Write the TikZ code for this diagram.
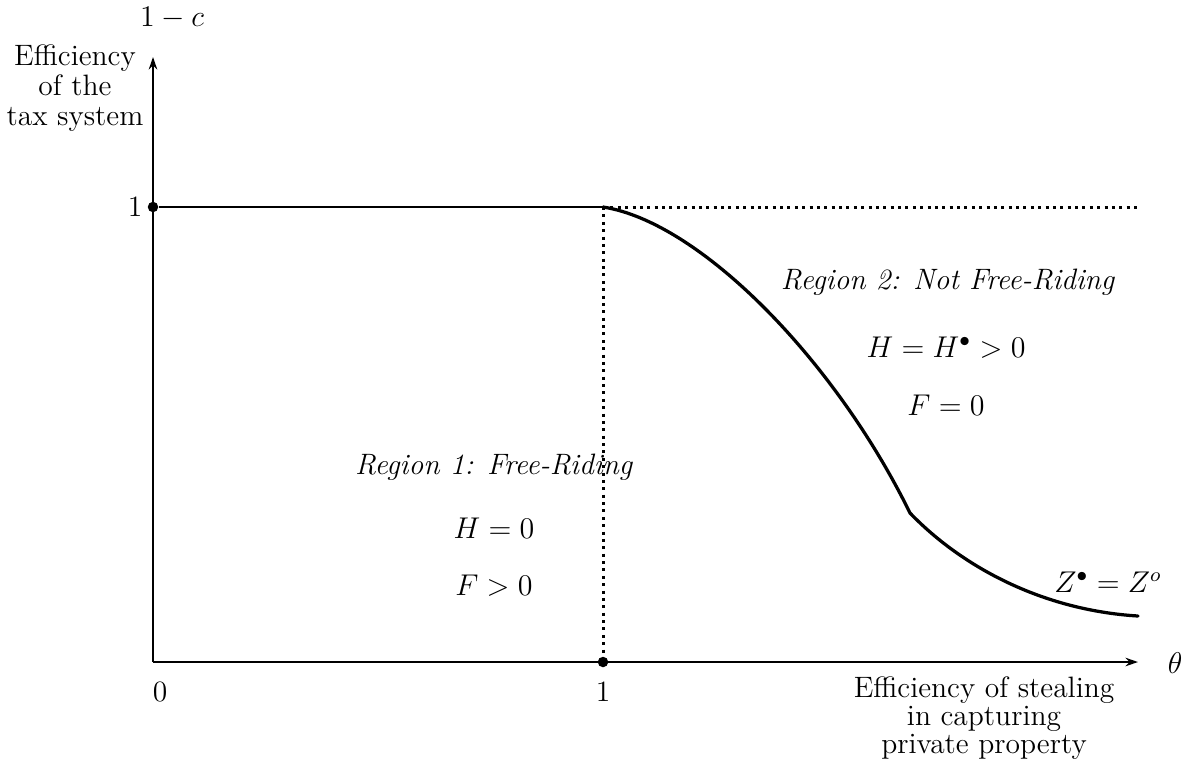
\documentclass[tikz,border=0pt]{standalone}
\usetikzlibrary{arrows.meta}
\begin{document}
\begin{tikzpicture}[x=0.4pt,y=-0.4pt,
  every node/.style={font=\fontsize{11.8}{11.2}\selectfont, inner sep=0pt},
  axis/.style={line width=0.8pt, -{Stealth[length=5pt,width=3.4pt]}},
  solidline/.style={line width=1.1pt},
  dotline/.style={line width=1.2pt, dash pattern=on 1.2pt off 1.75pt},
  curveline/.style={line width=1.3pt, line cap=round},
  lbl/.style={align=center},
  pt/.style={circle, fill=black, minimum size=4.2pt, inner sep=0pt}]
\useasboundingbox (0,0) rectangle (1183,762);
% coordinates
\coordinate (O) at (153,662);
\coordinate (Ytop) at (153,57);
\coordinate (Xend) at (1138,662);
\coordinate (B) at (603,207);
\coordinate (C) at (603,662);
\coordinate (D) at (1138,207);
\coordinate (K) at (910,513);
\coordinate (E) at (1138,616);
% axes
\draw[axis] (O) -- (Ytop);
\draw[axis] (O) -- (Xend);
% dots
\node[pt] (A) at (153,207) {};
\node[pt] (Cd) at (C) {};
% lines
\draw[solidline] (A) -- (B);
\draw[dotline] (B) -- (D);
\draw[dotline] (B) -- (Cd);
% curve
\draw[curveline] (B) .. controls (700,222) and (835,360) .. (K)
                     .. controls (960,565) and (1040,610) .. (E);
% labels
\node (lc) at (172,18) {$1-c$};
\node[lbl, font=\fontsize{11.8}{12}\selectfont] (ylab) at (75,88) {Efficiency\\of the\\tax system};
\node (one) at (135,207) {1};
\node (zero) at (160,692) {0};
\node (onex) at (603,692) {1};
\node (th) at (1175,663) {$\theta$};
\node[lbl] (xlab) at (984,718) {Efficiency of stealing\\in capturing\\private property};
\node (r2) at (948,282) {\textit{Region 2: Not Free-Riding}};
\node (h2) at (946,348) {$H=H^{\bullet}>0$};
\node (f2) at (946,405) {$F=0$};
\node (r1) at (494,467) {\textit{Region 1: Free-Riding}};
\node (h1) at (494,528) {$H=0$};
\node (f1) at (494,586) {$F>0$};
\node (z) at (1108,582) {$Z^{\bullet}=Z^{o}$};
\end{tikzpicture}
\end{document}
